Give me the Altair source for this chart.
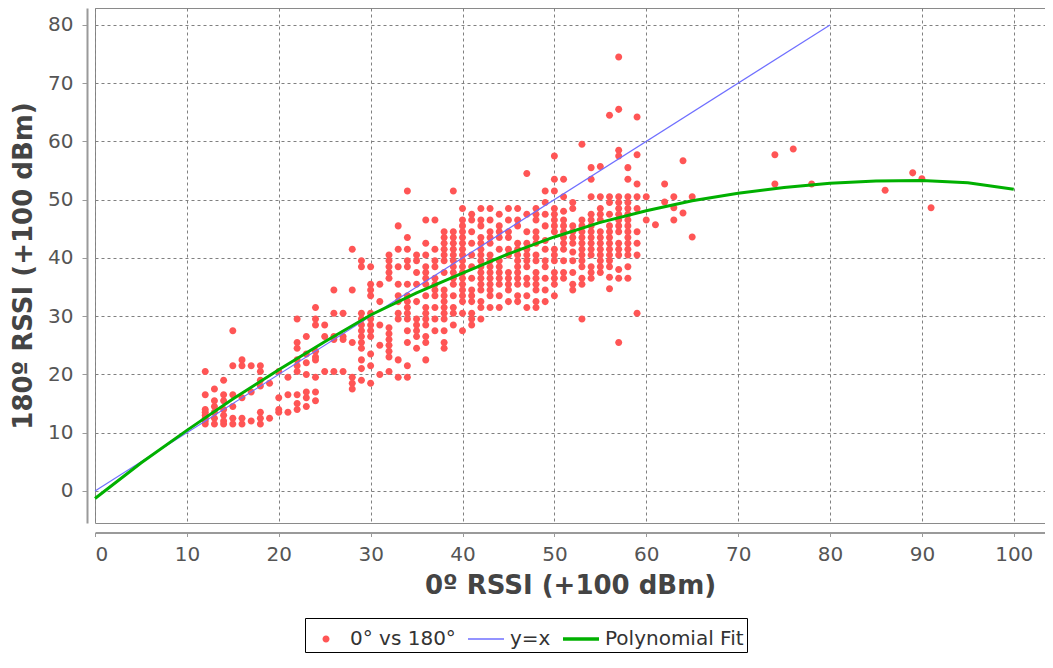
import altair as alt
import pandas as pd

# ---- data ----
col_x = [12, 13, 14, 15, 16, 17, 18, 19, 20, 21, 22, 23, 24, 25, 26, 27, 28, 29, 30,
         31, 32, 33, 34, 35, 36, 37, 38, 39, 40, 41, 42, 43, 44, 45, 46, 47, 48, 49,
         50, 51, 52, 53, 54, 55, 56, 57, 58, 59, 60, 61, 62, 63, 64, 65,
         74, 76, 78, 86, 89, 90, 91]
col_y = [
    [20.5, 16.5, 14, 13.5, 13, 12.5, 12, 11.5],
    [17.5, 15.5, 14.5, 13.5, 12.5, 11.5],
    [19, 16.5, 15.5, 14, 13, 12, 11.5],
    [27.5, 21.5, 16.5, 14.5, 12.5, 11.5],
    [22.5, 21.5, 16, 12.5, 11.5],
    [21.5, 17, 12],
    [21.5, 20.5, 19, 18, 13.5, 12.5, 11.5],
    [18.5, 12.5],
    [20.5, 16, 14, 13.5],
    [19.5, 16.5, 13.5],
    [29.5, 25.5, 24.5, 22.5, 21.5, 20.5, 16.5, 15, 14],
    [26.5, 23.5, 22, 20, 17, 16, 14.5],
    [31.5, 29.5, 28.5, 24, 23, 22.5, 19.5, 17, 15.5],
    [28.5, 26.5, 20.5],
    [34.5, 30.5, 26.5, 26, 20.5],
    [30.5, 26.5, 26, 20.5],
    [41.5, 34.5, 25.5, 19.5, 18.5, 17.5],
    [39.5, 38.5, 30.5, 29.5, 28.5, 27.5, 26.5, 25.5, 24.5, 22.5, 21, 19],
    [38.5, 35.5, 34.5, 33.5, 30.5, 29.5, 28.5, 27.5, 26.5, 23.5, 21.5, 18.5],
    [35.5, 32.5, 28.5, 25, 20],
    [40.5, 39.5, 38.5, 37.5, 36.5, 28, 27, 26, 25, 24, 23, 20.5],
    [45.5, 41.5, 38.5, 35.5, 33.5, 32.5, 30.5, 29.5, 22.5, 19.5],
    [51.5, 43.5, 41.5, 39.5, 38.5, 35.5, 33.5, 32.5, 31.5, 30.5, 29.5, 27.5, 25.5, 21.5, 19.5],
    [40.5, 39.5, 37.5, 35.5, 32.5, 29.5, 28.5, 27.5, 26.5, 24.5],
    [46.5, 42.5, 40.5, 38.5, 37.5, 36.5, 35.5, 33.5, 31.5, 30.5, 29.5, 28.5, 26.5, 25.5, 22.5],
    [46.5, 41.5, 39.5, 38.5, 36.5, 35.5, 34.5, 33.5, 31.5, 29.5, 27.5],
    [44.5, 43.5, 42.5, 41.5, 40.5, 39.5, 37.5, 34.5, 33.5, 32.5, 31.5, 30.5, 29.5, 27.5, 25.5, 24.5],
    [51.5, 44.5, 43.5, 42.5, 41.5, 40.5, 39.5, 38.5, 37.5, 36.5, 35.5, 33.5, 31.5, 30.5, 28.5],
    [48.5, 46.5, 45.5, 44.5, 43.5, 42.5, 41.5, 40.5, 39.5, 38.5, 37.5, 36.5, 35.5, 34.5, 33.5, 32.5, 30.5, 27.5],
    [47.5, 46.5, 44.5, 42.5, 40.5, 38.5, 36.5, 34.5, 33.5, 32.5, 30.5, 29.5, 28.5],
    [48.5, 46.5, 45.5, 43.5, 42.5, 41.5, 40.5, 39.5, 38.5, 37.5, 36.5, 35.5, 34.5, 32.5, 31.5, 29.5],
    [48.5, 46.5, 44.5, 43.5, 42.5, 40.5, 39.5, 38.5, 37.5, 36.5, 35.5, 34.5, 33.5, 31.5],
    [47.5, 45.5, 44.5, 43.5, 41.5, 39.5, 38.5, 37.5, 36.5, 35.5, 33.5, 31.5],
    [48.5, 46.5, 44.5, 43.5, 41.5, 40.5, 37.5, 36.5, 35.5, 34.5, 32.5],
    [48.5, 46.5, 45.5, 42.5, 41.5, 40.5, 39.5, 38.5, 37.5, 36.5, 35.5, 33.5, 32.5],
    [54.5, 47.5, 44.5, 42.5, 41.5, 40.5, 39.5, 38.5, 36.5, 35.5, 33.5, 31.5],
    [48.5, 47.5, 46.5, 44.5, 43.5, 42.5, 40.5, 39.5, 37.5, 36.5, 35.5, 34.5, 32.5, 31.5],
    [51.5, 49.5, 47.5, 45.5, 43, 41.5, 39.5, 38.5, 36.5, 34.5, 32.5],
    [57.5, 53.5, 51.5, 48.5, 47.5, 46.5, 45.5, 44.5, 41.5, 40.5, 39.5, 37.5, 36.5, 35.5, 33.5],
    [53.5, 50.5, 48, 46.5, 45.5, 44.5, 43.5, 42.5, 41.5, 39.5, 37.5, 36.5],
    [49.5, 48.5, 45.5, 44.5, 43.5, 42.5, 41, 39.5, 37.5, 35.5, 34.5],
    [59.5, 46.5, 45.5, 44.5, 43.5, 42.5, 41.5, 40.5, 39.5, 38.5, 36.5, 35.5, 29.5],
    [55.5, 53.5, 50.5, 47.5, 46.5, 45.5, 44.5, 43.5, 42.5, 41.5, 40.5, 38.5, 37.5, 36.5],
    [55.7, 50.5, 48.5, 47.5, 46.5, 44.5, 43.5, 42.5, 41.5, 40.5, 39.5, 38.5, 37.5],
    [64.5, 50.5, 49.5, 47.5, 45.5, 44.5, 43.5, 42.5, 41.5, 40.5, 39.5, 38.5, 36.7, 34.7],
    [74.5, 65.5, 58.5, 57.5, 50.5, 49.5, 48.5, 47.5, 46.5, 45.5, 44.5, 42.5, 41.5, 40.5, 38, 36.5, 25.5],
    [55.5, 53.5, 50.5, 49.5, 48.5, 47.5, 46.5, 45.5, 44.5, 43.5, 42.5, 41.5, 40.5, 38.5, 36.5],
    [64.2, 57.7, 52.7, 50.5, 48.5, 44.5, 42.5, 40.5, 30.5],
    [50.5, 46.5],
    [45.7],
    [52.7, 49.6],
    [50.5, 48.6, 46.5],
    [56.7, 47.7],
    [50.5, 43.6],
    [57.7, 52.7],
    [58.7],
    [52.7],
    [51.6],
    [54.6],
    [53.6],
    [48.6],
]

ident_x = [0, 80]
ident_y = [0, 80]

fit_x = [0, 5, 10, 15, 20, 25, 30, 35, 40, 45, 50, 55, 60, 65, 70, 75, 80, 85, 90, 95, 100]
fit_y = [-1.3, 4.8, 10.4, 15.8, 20.8, 25.6, 30.2, 34.0, 37.4, 40.7, 43.6, 46.1, 48.1, 49.8,
         51.1, 52.1, 52.8, 53.2, 53.3, 52.9, 51.8]

x_ticks = [0, 10, 20, 30, 40, 50, 60, 70, 80, 90, 100]
y_ticks = [0, 10, 20, 30, 40, 50, 60, 70, 80]

series = ["0° vs 180°", "y=x", "Polynomial Fit"]
colors = ["#ff5555", "#6f6fff", "#00b000"]

# legend / marker glyphs (unit-square SVG paths, scaled by the symbol size)
dot_path = "M-0.195,0A0.195,0.195 0 1,0 0.195,0A0.195,0.195 0 1,0 -0.195,0Z"
thin_path = "M-1,-0.036L1,-0.036L1,0.036L-1,0.036Z"
thick_path = "M-1,-0.094L1,-0.094L1,0.094L-1,0.094Z"
shapes = [dot_path, thin_path, thick_path]

# ---- tables ----
rows = []
for cx, ys in zip(col_x, col_y):
    for yv in ys:
        rows.append({"x": cx, "y": yv, "series": series[0]})
pts = pd.DataFrame(rows)
ident = pd.DataFrame({"x": ident_x, "y": ident_y})
fit = pd.DataFrame({"x": fit_x, "y": fit_y})

FONT = "DejaVu Sans"
SYM = 1296

xscale = alt.Scale(domain=[0, 103.4], nice=False, zero=False)
yscale = alt.Scale(domain=[-5.5, 82.9], nice=False, zero=False)

xaxis = alt.Axis(values=x_ticks, title="0º RSSI (+100 dBm)", offset=9.5, tickSize=4,
                 labelPadding=8, titlePadding=8, titleFontSize=26)
yaxis = alt.Axis(values=y_ticks, title="180º RSSI (+100 dBm)", offset=8, tickSize=5,
                 labelPadding=9, titlePadding=11, titleFontSize=26)

legend = alt.Legend(
    title=None, orient="none", legendX=210, legendY=610, direction="horizontal", columns=3,
    strokeColor="#000000", padding=3, symbolSize=SYM, symbolStrokeWidth=0,
    labelFontSize=20, labelFont=FONT, labelColor="#333333", columnPadding=12, labelOffset=6,
    symbolOpacity=1,
)

points = alt.Chart(pts).mark_point(filled=True, size=SYM, opacity=1, strokeWidth=0).encode(
    x=alt.X("x:Q", scale=xscale, axis=xaxis),
    y=alt.Y("y:Q", scale=yscale, axis=yaxis),
    color=alt.Color("series:N", scale=alt.Scale(domain=series, range=colors), legend=legend),
    shape=alt.Shape("series:N", scale=alt.Scale(domain=series, range=shapes), legend=legend),
)
line_id = alt.Chart(ident).mark_line(strokeWidth=1.2, color=colors[1]).encode(
    x="x:Q", y="y:Q")
line_fit = alt.Chart(fit).mark_line(strokeWidth=3, color=colors[2]).encode(
    x="x:Q", y="y:Q")

chart = alt.layer(points, line_id, line_fit).properties(
    width=950, height=515,
    autosize=alt.AutoSizeParams(type="none"),
    padding={"left": 87, "top": 0, "right": 0, "bottom": 137},
    background="white",
).configure_view(
    stroke="#8a8a8a", strokeWidth=1
).configure_axis(
    labelFont=FONT, labelFontSize=20, labelColor="#555555",
    titleFont=FONT, titleFontWeight="bold", titleColor="#444444",
    grid=True, gridColor="#808080", gridDash=[3, 3], gridWidth=1,
    domainColor="#9a9a9a", domainWidth=2, tickColor="#9a9a9a", tickWidth=1,
)

chart.save("out.html", embed_options={"renderer": "svg", "actions": False})
